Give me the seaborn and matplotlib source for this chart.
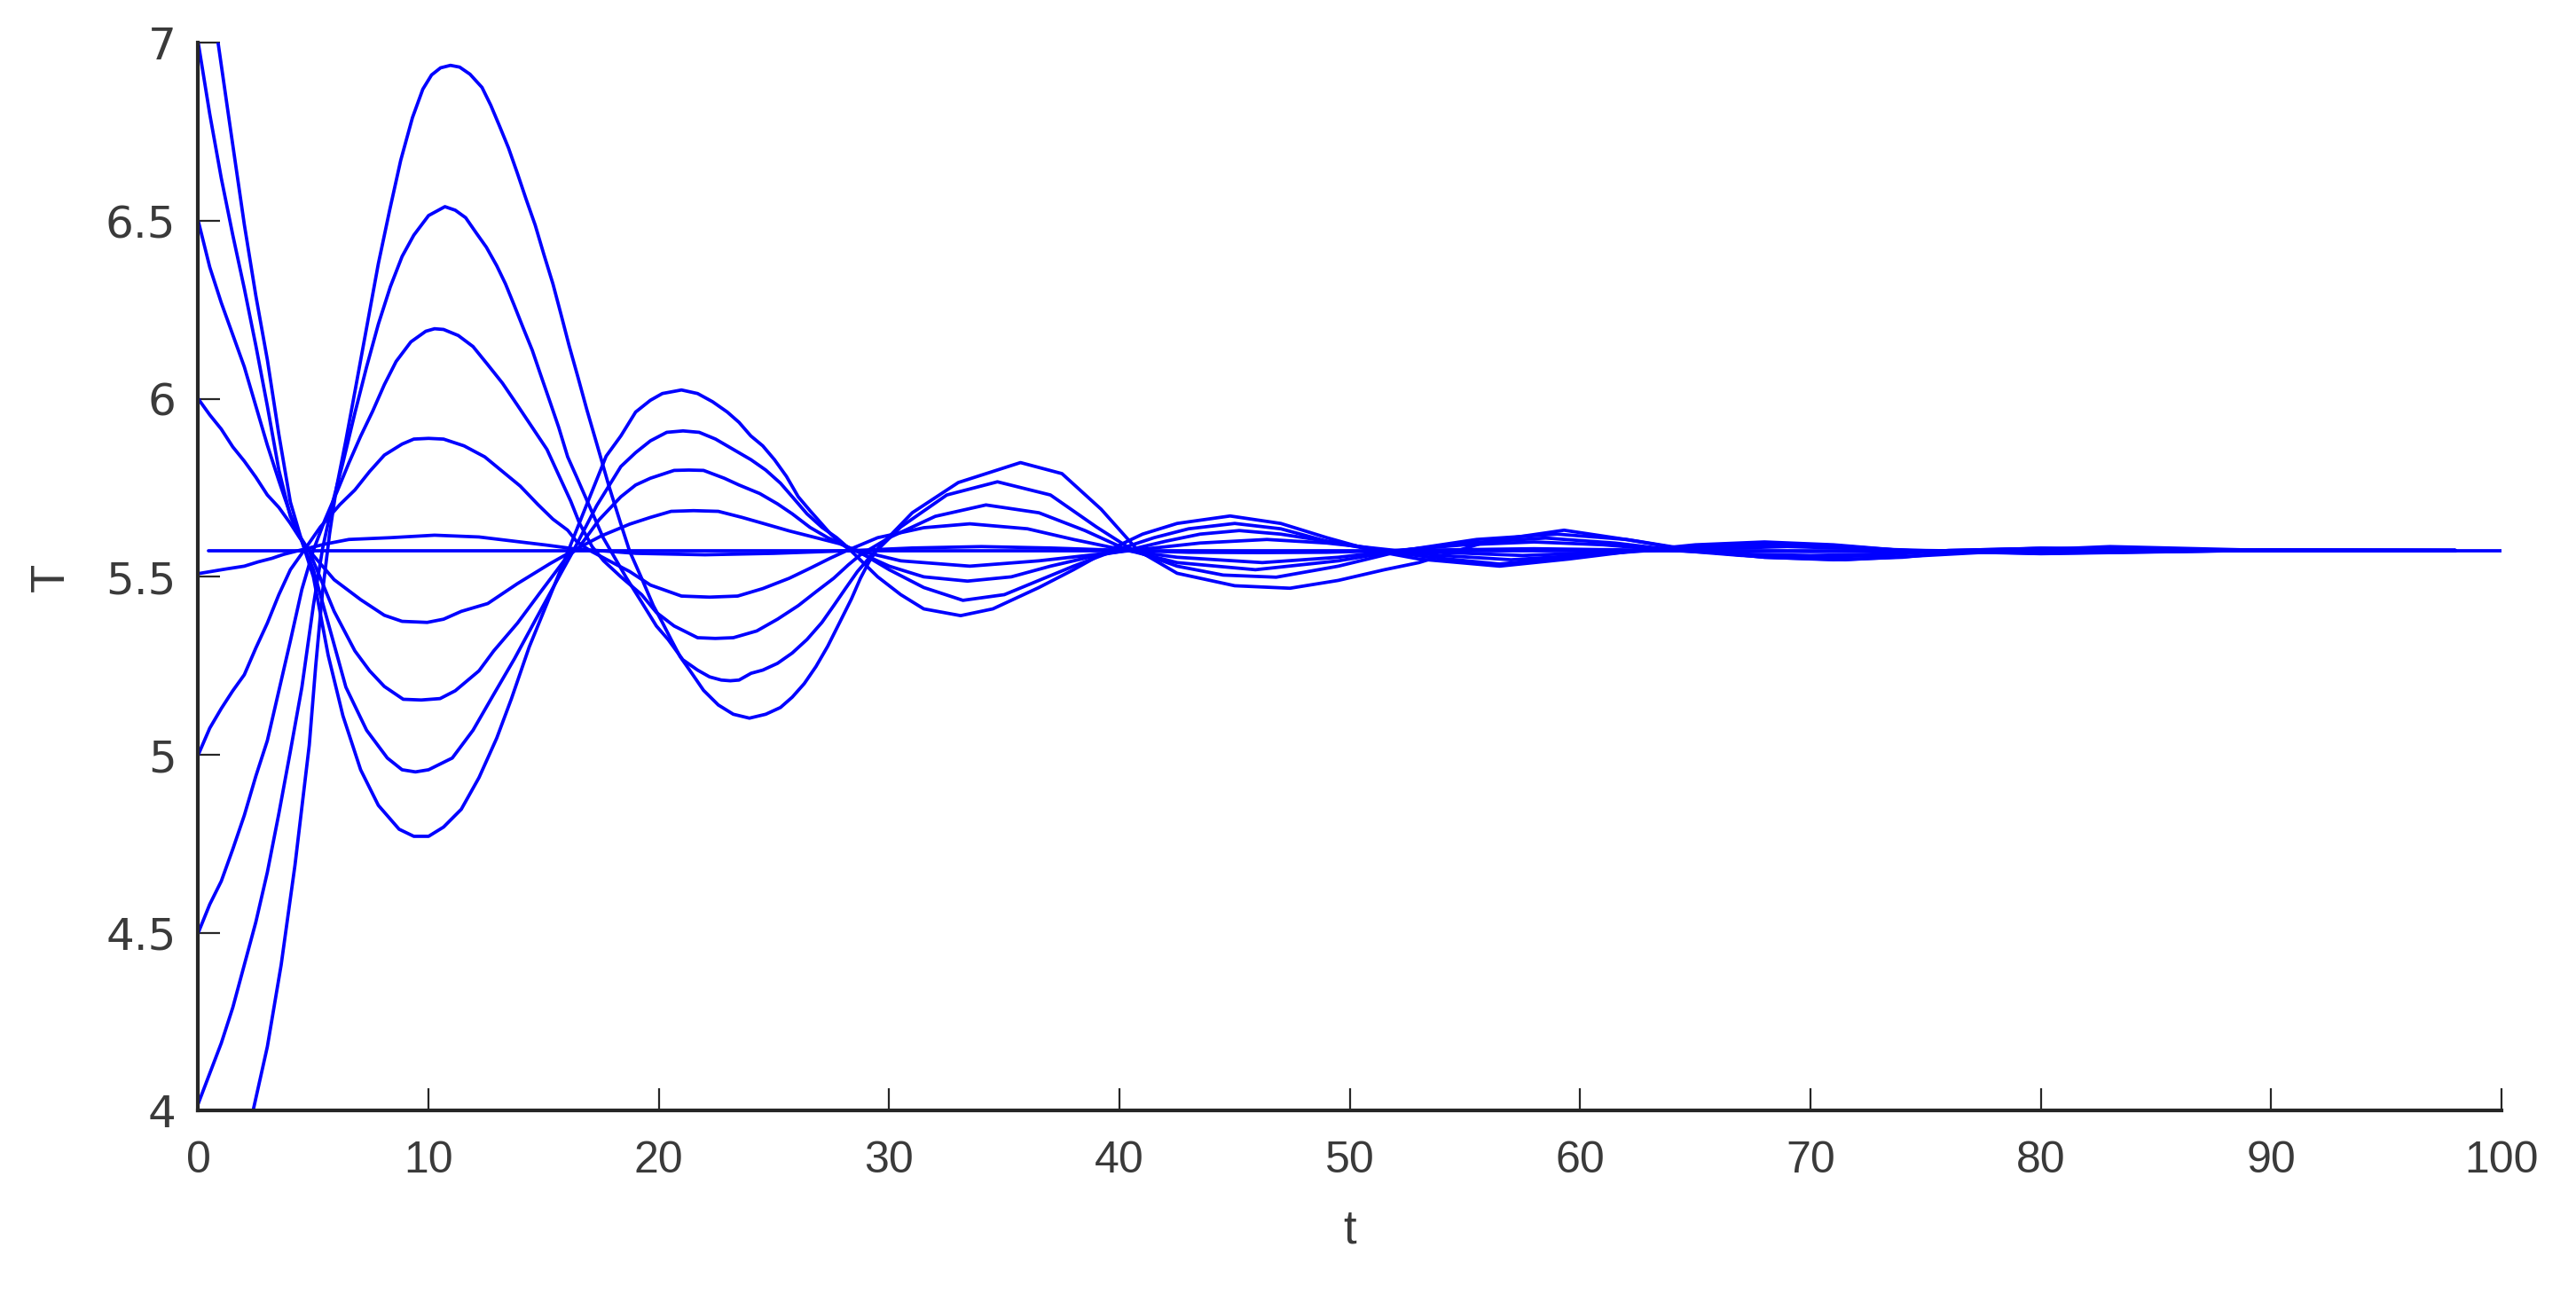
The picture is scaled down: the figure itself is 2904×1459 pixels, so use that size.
import matplotlib
matplotlib.use("Agg")
import matplotlib.pyplot as plt
import seaborn as sns
import pandas as pd

# ---------------- data ----------------
A_t = [0, 0.5, 0.84, 1.35, 2.0, 2.5, 3.0, 3.5, 4.0, 4.5, 5.0, 5.64, 6.28, 7.05, 7.82, 8.72, 9.36, 10.0, 10.65, 11.42, 12.19, 12.96, 13.6, 14.37, 15.14, 15.91, 16.6, 17.71, 18.35, 18.99, 19.63, 20.15, 20.98, 21.68, 22.33, 22.97, 23.48, 23.99, 24.51, 25.02, 25.54, 26.05, 26.56, 27.08, 27.46, 27.97, 28.36, 29.5, 30.5, 31.5, 33.1, 34.5, 35.5, 36.5, 38.0, 39.5, 41.0, 42.5, 44.8, 47.0, 49.0, 51.0, 53.0, 56.5, 59.5, 62.5, 65.0, 68.0, 71.0, 74.0, 80.0, 90.0, 98.0]
A_T = [7.5, 7.21, 7.01, 6.78, 6.49, 6.29, 6.11, 5.90, 5.71, 5.60, 5.50, 5.28, 5.11, 4.958, 4.858, 4.791, 4.771, 4.771, 4.797, 4.847, 4.936, 5.047, 5.158, 5.303, 5.425, 5.548, 5.66, 5.839, 5.896, 5.963, 5.996, 6.015, 6.025, 6.015, 5.992, 5.963, 5.934, 5.896, 5.868, 5.829, 5.782, 5.725, 5.686, 5.648, 5.62, 5.591, 5.572, 5.50, 5.45, 5.41, 5.391, 5.41, 5.44, 5.47, 5.52, 5.574, 5.62, 5.65, 5.671, 5.65, 5.61, 5.574, 5.55, 5.53, 5.55, 5.574, 5.59, 5.598, 5.59, 5.574, 5.565, 5.575, 5.574]

B_t = [0, 0.5, 1.0, 1.5, 2.0, 2.5, 3.0, 3.5, 4.0, 4.5, 5.0, 5.77, 6.41, 7.31, 8.21, 8.85, 9.43, 10.0, 11.03, 11.93, 12.83, 13.73, 14.75, 15.78, 16.3, 17.3, 18.35, 18.99, 19.63, 20.34, 21.05, 21.75, 22.46, 23.23, 24.0, 24.64, 25.28, 25.79, 26.43, 27.08, 27.72, 28.23, 28.6, 30.0, 31.5, 33.2, 35.0, 36.5, 38.0, 39.8, 41.5, 43.0, 45.0, 47.0, 49.0, 51.2, 53.5, 56.5, 59.5, 62.5, 65.5, 68.0, 71.0, 74.0, 80.0, 90.0, 98.0]
B_T = [7.0, 6.80, 6.62, 6.46, 6.31, 6.15, 5.98, 5.80, 5.67, 5.60, 5.52, 5.34, 5.19, 5.069, 4.991, 4.958, 4.952, 4.958, 4.991, 5.069, 5.17, 5.27, 5.392, 5.514, 5.575, 5.70, 5.81, 5.849, 5.882, 5.906, 5.91, 5.906, 5.887, 5.858, 5.829, 5.8, 5.763, 5.725, 5.677, 5.639, 5.61, 5.581, 5.574, 5.52, 5.47, 5.434, 5.45, 5.49, 5.53, 5.574, 5.61, 5.635, 5.65, 5.635, 5.60, 5.574, 5.555, 5.536, 5.555, 5.574, 5.588, 5.595, 5.588, 5.574, 5.566, 5.575, 5.574]

C_t = [0, 0.5, 1.0, 1.5, 2.0, 2.5, 3.0, 3.5, 4.0, 4.4, 4.8, 5.9, 6.8, 7.44, 8.08, 8.9, 9.68, 10.5, 11.16, 12.19, 12.83, 13.86, 14.88, 15.52, 16.04, 16.5, 17.4, 18.35, 18.99, 19.63, 20.66, 21.3, 21.94, 22.84, 23.48, 24.38, 25.15, 25.79, 26.56, 27.33, 27.97, 28.5, 30.0, 31.5, 33.4, 35.3, 37.0, 39.0, 40.3, 42.0, 43.5, 45.2, 47.0, 49.0, 51.5, 54.0, 57.0, 60.0, 63.0, 65.5, 68.0, 71.0, 74.0, 80.0, 90.0, 98.0]
C_T = [6.5, 6.37, 6.27, 6.18, 6.09, 5.98, 5.87, 5.77, 5.675, 5.615, 5.575, 5.403, 5.292, 5.236, 5.192, 5.156, 5.154, 5.158, 5.18, 5.236, 5.292, 5.37, 5.459, 5.514, 5.559, 5.58, 5.66, 5.725, 5.758, 5.777, 5.799, 5.80, 5.799, 5.777, 5.758, 5.734, 5.705, 5.677, 5.639, 5.61, 5.591, 5.574, 5.53, 5.50, 5.488, 5.50, 5.53, 5.56, 5.574, 5.60, 5.62, 5.63, 5.62, 5.60, 5.574, 5.56, 5.548, 5.56, 5.574, 5.584, 5.59, 5.584, 5.574, 5.567, 5.575, 5.574]

D_t = [0, 0.5, 1.0, 1.5, 2.0, 2.5, 3.0, 3.5, 4.0, 4.4, 4.8, 5.9, 7.05, 8.08, 8.85, 9.94, 10.65, 11.42, 12.57, 13.86, 15.27, 16.17, 17.5, 18.73, 19.63, 20.53, 21.5, 22.58, 23.61, 24.64, 25.66, 26.82, 27.85, 28.5, 30.5, 33.5, 36.5, 40.5, 43.5, 46.4, 49.0, 52.0, 57.5, 63.0, 69.0, 75.0, 80.0, 90.0, 98.0]
D_T = [6.0, 5.955, 5.915, 5.865, 5.825, 5.78, 5.73, 5.695, 5.65, 5.61, 5.575, 5.492, 5.436, 5.392, 5.375, 5.372, 5.381, 5.403, 5.425, 5.481, 5.537, 5.570, 5.615, 5.648, 5.667, 5.684, 5.686, 5.684, 5.667, 5.648, 5.629, 5.61, 5.593, 5.576, 5.545, 5.53, 5.545, 5.574, 5.595, 5.605, 5.595, 5.574, 5.56, 5.574, 5.585, 5.574, 5.57, 5.575, 5.574]

E_t = [0, 1.2, 2.0, 2.6, 3.2, 3.7, 4.43, 5.5, 6.54, 8.34, 10.26, 12.19, 13.73, 15.14, 16.3, 19.0, 22.0, 25.0, 28.5, 31.0, 34.0, 37.0, 40.3, 43.0, 46.0, 49.0, 52.0, 58.0, 64.0, 70.0, 80.0, 90.0, 98.0]
E_T = [5.509, 5.522, 5.53, 5.542, 5.552, 5.563, 5.575, 5.592, 5.605, 5.61, 5.617, 5.612, 5.6, 5.589, 5.579, 5.566, 5.562, 5.566, 5.574, 5.581, 5.585, 5.581, 5.574, 5.569, 5.568, 5.569, 5.574, 5.579, 5.574, 5.571, 5.574, 5.574, 5.574]

F_t = [0, 0.5, 1.0, 1.5, 2.0, 2.5, 3.0, 3.5, 4.0, 4.6, 5.3, 6.15, 6.8, 7.44, 8.08, 8.85, 9.36, 10.0, 10.65, 11.54, 12.44, 13.21, 13.98, 14.75, 15.4, 16.04, 16.42, 17.0, 17.84, 18.73, 19.63, 20.98, 22.2, 23.42, 24.51, 25.66, 26.56, 27.46, 28.1, 29.5, 31.5, 33.5, 36.0, 38.0, 40.3, 42.5, 46.2, 49.5, 52.0, 55.0, 58.0, 61.0, 64.0, 67.0, 70.0, 73.0, 76.0, 80.0, 90.0, 98.0]
F_T = [5.0, 5.075, 5.13, 5.18, 5.225, 5.30, 5.37, 5.45, 5.52, 5.575, 5.64, 5.703, 5.744, 5.796, 5.842, 5.873, 5.887, 5.889, 5.887, 5.868, 5.837, 5.796, 5.755, 5.703, 5.662, 5.631, 5.6, 5.574, 5.545, 5.515, 5.477, 5.446, 5.443, 5.446, 5.467, 5.496, 5.524, 5.553, 5.572, 5.61, 5.638, 5.649, 5.635, 5.605, 5.574, 5.555, 5.54, 5.555, 5.574, 5.59, 5.598, 5.59, 5.574, 5.564, 5.56, 5.564, 5.574, 5.58, 5.574, 5.574]

G_t = [0, 0.5, 1.0, 1.5, 2.0, 2.5, 3.0, 3.5, 4.0, 4.5, 5.0, 5.5, 6.03, 6.54, 7.05, 7.57, 8.08, 8.59, 9.23, 9.88, 10.26, 10.65, 11.29, 11.93, 12.57, 13.21, 13.86, 14.5, 15.14, 15.65, 16.17, 16.55, 17.1, 17.6, 18.35, 19.25, 19.89, 20.66, 21.68, 22.45, 23.23, 24.25, 25.15, 26.05, 26.82, 27.59, 28.23, 28.75, 30.0, 32.0, 34.2, 36.5, 38.5, 40.4, 42.5, 45.9, 49.5, 52.2, 55.0, 58.5, 61.5, 64.3, 67.0, 70.0, 73.0, 76.0, 80.0, 90.0, 98.0]
G_T = [4.5, 4.58, 4.645, 4.735, 4.83, 4.94, 5.04, 5.18, 5.32, 5.465, 5.575, 5.66, 5.74, 5.82, 5.895, 5.965, 6.04, 6.105, 6.16, 6.19, 6.197, 6.195, 6.178, 6.147, 6.096, 6.044, 5.982, 5.92, 5.858, 5.786, 5.713, 5.651, 5.585, 5.545, 5.50, 5.45, 5.40, 5.362, 5.329, 5.327, 5.329, 5.348, 5.381, 5.419, 5.458, 5.496, 5.534, 5.562, 5.61, 5.67, 5.702, 5.68, 5.63, 5.574, 5.54, 5.52, 5.545, 5.574, 5.595, 5.609, 5.595, 5.574, 5.56, 5.555, 5.56, 5.574, 5.58, 5.574, 5.574]

H_t = [0, 0.5, 1.0, 1.5, 2.0, 2.5, 3.0, 3.5, 4.0, 4.5, 5.0, 5.4, 5.8, 6.28, 6.8, 7.31, 7.82, 8.34, 8.85, 9.36, 10.0, 10.71, 11.16, 11.61, 12.06, 12.51, 12.96, 13.34, 13.73, 14.11, 14.5, 14.88, 15.27, 15.65, 16.04, 16.42, 17.07, 17.58, 18.09, 18.6, 19.25, 19.89, 20.4, 21.04, 21.68, 22.2, 22.71, 23.1, 23.48, 24.0, 24.51, 25.15, 25.79, 26.43, 27.08, 27.59, 28.1, 28.62, 29.13, 30.5, 32.5, 34.7, 37.0, 39.0, 40.6, 42.5, 44.5, 46.8, 49.5, 52.3, 55.5, 59.0, 62.0, 64.8, 68.0, 71.0, 74.0, 77.0, 80.0, 90.0, 98.0]
H_T = [4.02, 4.105, 4.19, 4.29, 4.41, 4.53, 4.67, 4.835, 5.01, 5.19, 5.42, 5.58, 5.70, 5.82, 5.96, 6.09, 6.21, 6.315, 6.40, 6.46, 6.515, 6.54, 6.53, 6.509, 6.467, 6.426, 6.374, 6.323, 6.261, 6.199, 6.137, 6.065, 5.992, 5.92, 5.837, 5.782, 5.686, 5.61, 5.553, 5.496, 5.429, 5.362, 5.324, 5.267, 5.238, 5.219, 5.21, 5.208, 5.21, 5.229, 5.238, 5.257, 5.286, 5.324, 5.372, 5.419, 5.467, 5.515, 5.553, 5.64, 5.73, 5.767, 5.73, 5.64, 5.574, 5.53, 5.505, 5.499, 5.53, 5.574, 5.605, 5.62, 5.605, 5.574, 5.555, 5.548, 5.555, 5.574, 5.58, 5.574, 5.574]

I_t = [0, 1.0, 2.0, 2.38, 3.0, 3.6, 4.2, 4.82, 5.1, 5.4, 5.7, 6.0, 6.4, 6.8, 7.31, 7.82, 8.31, 8.79, 9.3, 9.75, 10.13, 10.52, 10.95, 11.35, 11.8, 12.32, 12.7, 13.09, 13.47, 13.86, 14.24, 14.63, 15.01, 15.4, 15.78, 16.1, 16.49, 16.87, 17.32, 17.84, 18.35, 18.73, 19.25, 19.76, 20.15, 20.53, 20.92, 21.43, 21.94, 22.58, 23.23, 23.93, 24.64, 25.28, 25.79, 26.31, 26.82, 27.33, 27.85, 28.36, 28.75, 29.13, 29.52, 31.0, 33.0, 35.7, 37.5, 39.2, 40.8, 42.5, 45.0, 47.4, 49.5, 51.5, 53.0, 56.0, 59.3, 62.5, 65.0, 68.0, 71.5, 75.0, 79.0, 83.0, 90.0, 98.0]
I_T = [3.5, 3.68, 3.90, 4.0, 4.18, 4.41, 4.69, 5.027, 5.25, 5.46, 5.62, 5.75, 5.88, 6.02, 6.20, 6.38, 6.53, 6.67, 6.79, 6.87, 6.91, 6.93, 6.937, 6.932, 6.912, 6.875, 6.825, 6.765, 6.705, 6.633, 6.56, 6.488, 6.405, 6.323, 6.23, 6.15, 6.06, 5.97, 5.87, 5.753, 5.648, 5.572, 5.496, 5.419, 5.372, 5.324, 5.276, 5.229, 5.181, 5.14, 5.114, 5.103, 5.114, 5.133, 5.162, 5.2, 5.248, 5.305, 5.372, 5.438, 5.496, 5.543, 5.581, 5.68, 5.765, 5.821, 5.79, 5.69, 5.574, 5.51, 5.475, 5.468, 5.49, 5.52, 5.54, 5.60, 5.631, 5.60, 5.574, 5.555, 5.548, 5.56, 5.574, 5.585, 5.574, 5.574]

EQ_t = [0.45, 100.0]
EQ_T = [5.573, 5.573]

curves = {"A": (A_t, A_T), "B": (B_t, B_T), "C": (C_t, C_T), "D": (D_t, D_T),
          "E": (E_t, E_T), "F": (F_t, F_T), "G": (G_t, G_T), "H": (H_t, H_T),
          "I": (I_t, I_T), "EQ": (EQ_t, EQ_T)}

x_ticks = [0, 10, 20, 30, 40, 50, 60, 70, 80, 90, 100]
y_ticks = [4, 4.5, 5, 5.5, 6, 6.5, 7]
y_tick_labels = ["4", "4.5", "5", "5.5", "6", "6.5", "7"]

rows = []
for name, (ts, Ts) in curves.items():
    for i, (a, b) in enumerate(zip(ts, Ts)):
        rows.append({"curve": name, "order": i, "t": a, "T": b})
df = pd.DataFrame(rows)

# ---------------- drawing ----------------
sns.set_theme(style="white")
plt.rcParams["font.family"] = ["Liberation Sans", "DejaVu Sans"]

fig = plt.figure(figsize=(29.04, 14.59), dpi=100)
ax = fig.add_axes([0.07696, 0.14161, 0.89411, 0.82522])

sns.lineplot(data=df, x="t", y="T", units="curve", estimator=None, sort=False,
             color="#0000ff", linewidth=2.7, ax=ax, legend=False)

ax.set_xlim(0, 100)
ax.set_ylim(4, 7)
ax.set_xticks(x_ticks)
ax.set_yticks(y_ticks)
ax.set_yticklabels(y_tick_labels, fontfamily="DejaVu Sans")

for s in ["top", "right"]:
    ax.spines[s].set_visible(False)
for s in ["left", "bottom"]:
    ax.spines[s].set_color("#262626")
    ax.spines[s].set_linewidth(3.0)

ax.tick_params(axis="both", which="major", bottom=True, left=True,
               direction="in", length=18, width=1.6,
               color="#262626", labelsize=36, labelcolor="#3a3a3a")
ax.tick_params(axis="x", pad=24)
ax.tick_params(axis="y", pad=18)

ax.set_xlabel("t", fontsize=38, color="#3a3a3a", labelpad=22)
ax.set_ylabel("T", fontsize=38, color="#3a3a3a", labelpad=26)

fig.savefig("out.png", dpi=100, facecolor="white")
